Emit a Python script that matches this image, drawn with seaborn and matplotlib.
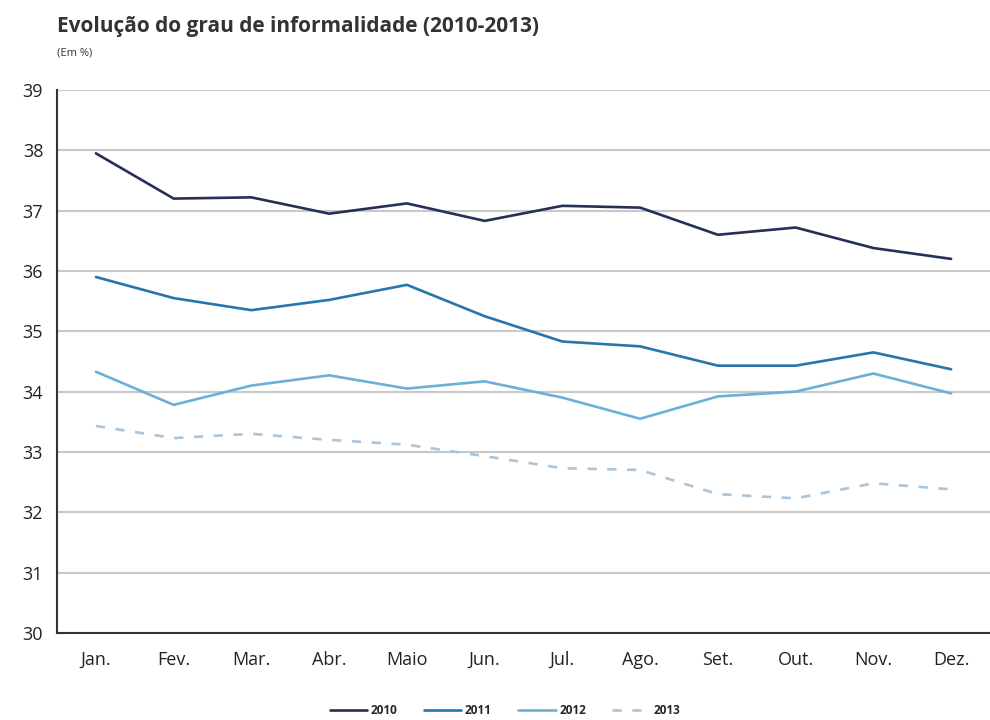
import matplotlib
matplotlib.use("Agg")
import matplotlib.pyplot as plt
import seaborn as sns
import pandas as pd
import numpy as np

months = ["Jan.", "Fev.", "Mar.", "Abr.", "Maio", "Jun.", "Jul.", "Ago.", "Set.", "Out.", "Nov.", "Dez."]
y2010 = [37.95, 37.20, 37.22, 36.95, 37.12, 36.83, 37.08, 37.05, 36.60, 36.72, 36.38, 36.20]
y2011 = [35.90, 35.55, 35.35, 35.52, 35.77, 35.25, 34.83, 34.75, 34.43, 34.43, 34.65, 34.37]
y2012 = [34.33, 33.78, 34.10, 34.27, 34.05, 34.17, 33.90, 33.55, 33.92, 34.00, 34.30, 33.97]
y2013 = [33.43, 33.23, 33.30, 33.20, 33.12, 32.93, 32.73, 32.70, 32.30, 32.23, 32.48, 32.38]
years = ["2010", "2011", "2012", "2013"]
yticks = [30, 31, 32, 33, 34, 35, 36, 37, 38, 39]

sns.set_theme(style="white")
plt.rcParams["font.family"] = ["Open Sans", "DejaVu Sans"]

rows = []
for yr, vals in zip(years, [y2010, y2011, y2012, y2013]):
    for i, v in enumerate(vals):
        rows.append({"mes": i, "ano": yr, "valor": v})
df = pd.DataFrame(rows)

fig = plt.figure(figsize=(9.9, 7.2), dpi=100)
ax = fig.add_axes([0.0576, 0.121, 0.9424, 0.754])

palette = {"2010": "#262f57", "2011": "#2676ac", "2012": "#6cb0d8", "2013": "#a9c5dc"}
dashes = {"2010": "", "2011": "", "2012": "", "2013": (3.5, 4)}
sns.lineplot(data=df, x="mes", y="valor", hue="ano", style="ano", palette=palette,
             dashes=dashes, linewidth=1.9, ax=ax, legend=True)

ax.set_xlim(-0.5, 11.5)
ax.set_ylim(30, 39)
ax.set_yticks(yticks)
ax.set_yticklabels([str(t) for t in yticks], fontsize=13, color="#222222")
ax.set_xticks(range(12))
ax.set_xticklabels(months, fontsize=13, color="#222222")
ax.set_xticks(np.arange(-0.5, 12, 1), minor=True)
ax.tick_params(axis="x", which="major", length=0, pad=13)
ax.tick_params(axis="x", which="minor", direction="out", length=6, width=1.3, color="#333333")
ax.tick_params(axis="y", which="major", direction="out", length=6, width=1.3, color="#333333", pad=4)
ax.yaxis.grid(True, color="#c8c8c8", linewidth=1.5)
ax.set_axisbelow(True)
ax.set_xlabel("")
ax.set_ylabel("")
for s in ["top", "right"]:
    ax.spines[s].set_visible(False)
for s in ["left", "bottom"]:
    ax.spines[s].set_color("#333333")
    ax.spines[s].set_linewidth(1.5)

handles, labels = ax.get_legend_handles_labels()
ax.legend(handles, labels, loc="lower center", bbox_to_anchor=(0.48, -0.175), ncol=4,
          frameon=False, fontsize=8.5, handlelength=3.2, columnspacing=2.2, handletextpad=0.3,
          prop={"weight": "bold", "size": 8.5})

fig.text(0.0576, 0.955, "Evolução do grau de informalidade (2010-2013)", fontsize=15,
         fontweight="bold", color="#333333", va="baseline")
fig.text(0.0576, 0.923, "(Em %)", fontsize=8, color="#333333", va="baseline")

fig.savefig("out.png", dpi=100)
